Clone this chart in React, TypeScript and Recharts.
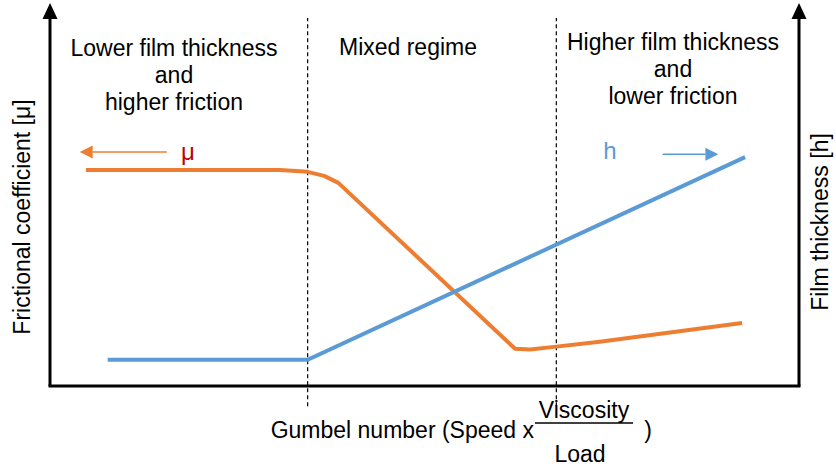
import { FC } from 'react'
import { LineChart, Line, XAxis, YAxis, ReferenceLine, ReferenceDot } from 'recharts'

// Gumbel number (0..100) and values
const muGumbel = [4.8, 30.7, 34.4, 36.6, 38.5, 62.1, 64.1, 67.6, 73.4, 92.4]
const muValues = [58.7, 58.7, 58.2, 57.1, 55.2, 10.1, 9.9, 10.7, 12.0, 17.1]
const hGumbel = [7.7, 34.4, 92.8]
const hValues = [7.1, 7.1, 62.2]
const regimeBounds = [34.4, 67.6]
const regimeLabels = [
  ['Lower film thickness', 'and', 'higher friction'],
  ['Mixed regime'],
  ['Higher film thickness', 'and', 'lower friction'],
]

const muData = muGumbel.map((g, i) => ({ g, mu: muValues[i] }))
const hData = hGumbel.map((g, i) => ({ g, h: hValues[i] }))

const W = 836
const H = 467
const FONT = '"Liberation Sans", Arial, sans-serif'
const ORANGE = '#ED7D31'
const BLUE = '#5B9BD5'

const upArrow = (p: any) => (
  <polygon points={`${p.cx},${p.cy - 15} ${p.cx - 7.5},${p.cy + 1} ${p.cx + 7.5},${p.cy + 1}`} fill="#000" />
)
const leftHead = (p: any) => (
  <polygon points={`${p.cx - 13},${p.cy} ${p.cx},${p.cy - 6.5} ${p.cx},${p.cy + 6.5}`} fill={ORANGE} />
)
const rightHead = (p: any) => (
  <polygon points={`${p.cx + 13},${p.cy} ${p.cx},${p.cy - 6.5} ${p.cx},${p.cy + 6.5}`} fill={BLUE} />
)

const txt = { fontFamily: FONT, fontSize: 23, fill: '#000' }

const App: FC = () => {
  return (
    <div style={{ position: 'absolute', left: 0, top: 0, width: W, height: H, background: '#fff' }}>
      <LineChart width={W} height={H} margin={{ top: 18, right: 37, bottom: 81, left: 50 }}>
        <XAxis type="number" dataKey="g" domain={[0, 100]} hide />
        <YAxis yAxisId="left" domain={[0, 100]} hide />
        <YAxis yAxisId="right" orientation="right" domain={[0, 100]} hide />
        {/* axes */}
        <ReferenceLine
          yAxisId="left"
          ifOverflow="visible"
          segment={[{ x: 0, y: 0 }, { x: 0, y: 100 }]}
          stroke="#000"
          strokeWidth={3}
        />
        <ReferenceLine
          yAxisId="left"
          ifOverflow="visible"
          segment={[{ x: 100, y: 0 }, { x: 100, y: 100 }]}
          stroke="#000"
          strokeWidth={3}
        />
        <ReferenceLine
          yAxisId="left"
          ifOverflow="visible"
          segment={[{ x: -0.2, y: 0 }, { x: 100.2, y: 0 }]}
          stroke="#000"
          strokeWidth={3}
        />
        <ReferenceDot yAxisId="left" x={0} y={100} ifOverflow="visible" shape={upArrow} />
        <ReferenceDot yAxisId="left" x={100} y={100} ifOverflow="visible" shape={upArrow} />
        {regimeBounds.map((b) => (
          <ReferenceLine
            key={b}
            yAxisId="left"
            ifOverflow="visible"
            segment={[{ x: b, y: -5.5 }, { x: b, y: 100 }]}
            stroke="#000"
            strokeWidth={1.2}
            strokeDasharray="4 3"
          />
        ))}
        <ReferenceLine
          yAxisId="left"
          ifOverflow="visible"
          segment={[{ x: 5.7, y: 63.6 }, { x: 15.6, y: 63.6 }]}
          stroke={ORANGE}
          strokeWidth={1.5}
        />
        <ReferenceDot yAxisId="left" x={5.7} y={63.6} ifOverflow="visible" shape={leftHead} />
        <ReferenceLine
          yAxisId="left"
          ifOverflow="visible"
          segment={[{ x: 81.8, y: 63.0 }, { x: 87.5, y: 63.0 }]}
          stroke={BLUE}
          strokeWidth={1.5}
        />
        <ReferenceDot yAxisId="left" x={87.5} y={63.0} ifOverflow="visible" shape={rightHead} />
        <Line
          yAxisId="left"
          data={muData}
          dataKey="mu"
          type="linear"
          stroke={ORANGE}
          strokeWidth={4}
          strokeLinejoin="round"
          dot={false}
          isAnimationActive={false}
        />
        <Line
          yAxisId="right"
          data={hData}
          dataKey="h"
          type="linear"
          stroke={BLUE}
          strokeWidth={4}
          dot={false}
          isAnimationActive={false}
        />
      </LineChart>
      <svg width={W} height={H} style={{ position: 'absolute', left: 0, top: 0, pointerEvents: 'none' }}>
        {regimeLabels[0].map((t, i) => (
          <text key={t} x={174} y={48 + i * 27} textAnchor="middle" dominantBaseline="central" style={txt}>
            {t}
          </text>
        ))}
        {regimeLabels[1].map((t) => (
          <text key={t} x={408} y={47} textAnchor="middle" dominantBaseline="central" style={txt}>
            {t}
          </text>
        ))}
        {regimeLabels[2].map((t, i) => (
          <text key={t} x={673} y={42 + i * 27} textAnchor="middle" dominantBaseline="central" style={txt}>
            {t}
          </text>
        ))}
        <text x={188} y={151} textAnchor="middle" dominantBaseline="central" style={{ ...txt, fontSize: 24, fill: '#C00000' }}>
          μ
        </text>
        <text x={610} y={150} textAnchor="middle" dominantBaseline="central" style={{ ...txt, fontSize: 24, fill: BLUE }}>
          h
        </text>
        <text x={22} y={217} textAnchor="middle" dominantBaseline="central" transform="rotate(-90 22 217)" style={txt}>
          Frictional coefficient [μ]
        </text>
        <text x={820} y={222} textAnchor="middle" dominantBaseline="central" transform="rotate(-90 820 222)" style={txt}>
          Film thickness [h]
        </text>
        <text x={534} y={430} textAnchor="end" dominantBaseline="central" style={txt}>
          Gumbel number (Speed x
        </text>
        <text x={584} y={410} textAnchor="middle" dominantBaseline="central" style={txt}>
          Viscosity
        </text>
        <line x1={535} x2={633} y1={423} y2={423} stroke="#000" strokeWidth={1.5} />
        <text x={580} y={454} textAnchor="middle" dominantBaseline="central" style={txt}>
          Load
        </text>
        <text x={648} y={430} textAnchor="middle" dominantBaseline="central" style={txt}>
          )
        </text>
      </svg>
    </div>
  )
}

export default App
